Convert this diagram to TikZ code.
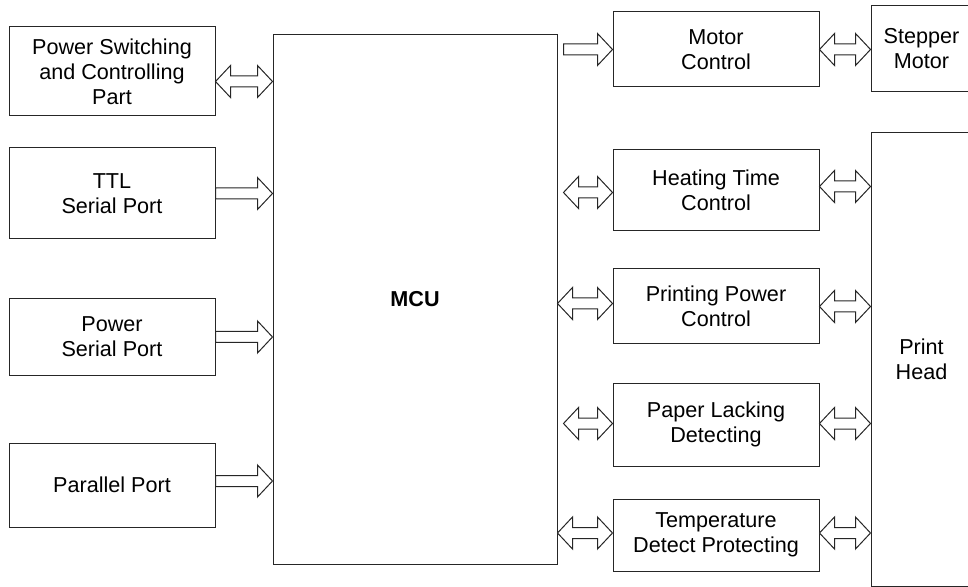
\documentclass[tikz,border=0pt]{standalone}
\usepackage{fontspec}
\setmainfont{Liberation Sans}
\usepackage{tikz}
\usetikzlibrary{arrows.meta, positioning, calc}

% hollow block arrows, drawn from the first point to the x of the second
\newcommand{\hollowarrow}[2]{%
  \draw[arrowline] let \p1=(#1), \p2=(#2) in
    (\x1,\y1+2.75pt) -- (\x2-7.5pt,\y1+2.75pt) -- (\x2-7.5pt,\y1+8pt) -- (\x2,\y1)
    -- (\x2-7.5pt,\y1-8pt) -- (\x2-7.5pt,\y1-2.75pt) -- (\x1,\y1-2.75pt) -- cycle;}
\newcommand{\hollowdarrow}[2]{%
  \draw[arrowline] let \p1=(#1), \p2=(#2) in
    (\x1,\y1) -- (\x1+7.5pt,\y1+8pt) -- (\x1+7.5pt,\y1+2.75pt) -- (\x2-7.5pt,\y1+2.75pt)
    -- (\x2-7.5pt,\y1+8pt) -- (\x2,\y1) -- (\x2-7.5pt,\y1-8pt) -- (\x2-7.5pt,\y1-2.75pt)
    -- (\x1+7.5pt,\y1-2.75pt) -- (\x1+7.5pt,\y1-8pt) -- cycle;}

\begin{document}
\begin{tikzpicture}[x=0.5pt, y=-0.5pt,
  block/.style={draw=black!85, line width=0.5pt, inner sep=0pt, align=center,
    font=\fontsize{10.8}{12.5}\selectfont},
  arrowline/.style={draw=black!85, line width=0.5pt, fill=white}]
  \useasboundingbox (0,0) rectangle (968,587);
  \clip (0,0) rectangle (968,587);
  % inputs on the left
  \node[block, minimum width=103pt, minimum height=44.5pt] (pwr) at (112,71.5) {Power Switching\\and Controlling\\Part};
  \node[block, minimum width=103pt, minimum height=45.5pt] (ttl) at (112,193.5) {TTL\\Serial Port};
  \node[block, minimum width=103pt, minimum height=38pt] (psp) at (112,337) {Power\\Serial Port};
  \node[block, minimum width=103pt, minimum height=42pt] (par) at (112,485) {Parallel Port};
  % controller
  \node[block, minimum width=142pt, minimum height=264.5pt, font=\fontsize{10.8}{12.5}\selectfont\bfseries] (mcu) at (415,299.5) {MCU};
  % control blocks
  \node[block, minimum width=103pt, minimum height=37.5pt] (motor) at (716,49.5) {Motor\\Control};
  \node[block, minimum width=103pt, minimum height=40.5pt] (heat) at (716,190.5) {Heating Time\\Control};
  \node[block, minimum width=103pt, minimum height=37.5pt] (ppow) at (716,306.5) {Printing Power\\Control};
  \node[block, minimum width=103pt, minimum height=41.5pt] (paper) at (716,424.5) {Paper Lacking\\Detecting};
  \node[block, minimum width=103pt, minimum height=36pt] (temp) at (716,535) {Temperature\\Detect Protecting};
  % devices on the right
  \node[block, minimum width=50.5pt, minimum height=43pt] (stepper) at (921.5,49) {Stepper\\Motor};
  \node[block, minimum width=50.5pt, minimum height=226.5pt] (head) at (921.5,359.5) {Print\\Head};
  % left connectors
  \hollowdarrow{$(pwr.east)+(0,10)$}{mcu.west}
  \hollowarrow{ttl.east}{mcu.west}
  \hollowarrow{psp.east}{mcu.west}
  \hollowarrow{$(par.east)+(0,-4)$}{mcu.west}
  % right connectors
  \hollowarrow{$(mcu.east |- motor.west)+(6,0)$}{motor.west}
  \hollowdarrow{$(mcu.east |- heat.west)+(6,2)$}{heat.west}
  \hollowdarrow{$(mcu.east |- ppow.west)+(0,-3)$}{ppow.west}
  \hollowdarrow{$(mcu.east |- paper.west)+(6,-1)$}{paper.west}
  \hollowdarrow{$(mcu.east |- temp.west)+(0,-2)$}{temp.west}
  \hollowdarrow{motor.east}{stepper.west}
  \hollowdarrow{$(heat.east)+(0,-4)$}{head.west}
  \hollowdarrow{ppow.east}{head.west}
  \hollowdarrow{$(paper.east)+(0,-1)$}{head.west}
  \hollowdarrow{$(temp.east)+(0,-2)$}{head.west}
\end{tikzpicture}
\end{document}
